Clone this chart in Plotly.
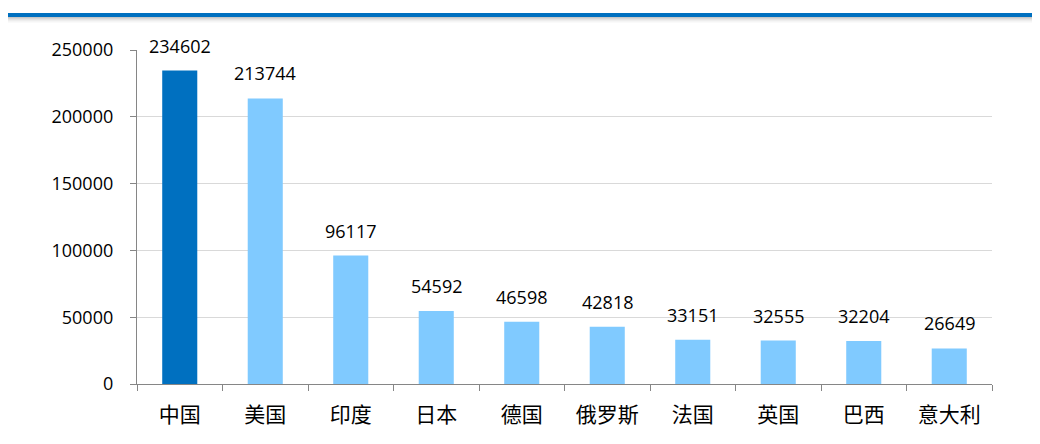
import plotly.graph_objects as go

countries = ["中国", "美国", "印度", "日本", "德国", "俄罗斯", "法国", "英国", "巴西", "意大利"]
values = [234602, 213744, 96117, 54592, 46598, 42818, 33151, 32555, 32204, 26649]
y_ticks = [0, 50000, 100000, 150000, 200000, 250000]

dark_blue = "#0070C0"
light_blue = "#80CAFF"
colors = [dark_blue] + [light_blue] * (len(countries) - 1)

num_font = "Open Sans, Noto Sans CJK SC"
cjk_font = "Noto Sans CJK SC"

# page has an 8px body margin; figure coords = page coords - 8
W, H = 1032, 436
L, R, T, B = 129, 48, 42, 60
PW, PH = W - L - R, H - T - B

def px_x(x):
    return (x - 8 - L) / PW

def px_y(y):
    return (H - B - (y - 8)) / PH

fig = go.Figure()
fig.add_trace(go.Bar(
    x=countries, y=values, marker=dict(color=colors, line=dict(width=0)),
    width=0.41, hoverinfo="x+y",
))

for c, v in zip(countries, values):
    fig.add_annotation(x=c, y=v, text=str(v), showarrow=False, yshift=25,
                       font=dict(family=num_font, size=18, color="#000000"))

# top decorative line with soft shadow
for i, op in enumerate([0.22, 0.16, 0.11, 0.07, 0.04, 0.02]):
    y0 = 17 + i
    fig.add_shape(type="rect", xref="paper", yref="paper",
                  x0=px_x(0), x1=px_x(1045),
                  y0=px_y(y0 + 1), y1=px_y(y0),
                  fillcolor=f"rgba(0,0,0,{op})", line=dict(width=0), layer="below")
fig.add_shape(type="rect", xref="paper", yref="paper",
              x0=px_x(0), x1=px_x(1045),
              y0=px_y(17), y1=px_y(13),
              fillcolor=dark_blue, line=dict(width=0))

fig.update_layout(
    width=W, height=H,
    margin=dict(l=L, r=R, t=T, b=B),
    paper_bgcolor="white", plot_bgcolor="white",
    showlegend=False,
    xaxis=dict(
        type="category", showline=True, linecolor="#868686", linewidth=1.3,
        ticks="outside", ticklen=6, tickcolor="#868686", tickson="boundaries",
        tickfont=dict(family=cjk_font, size=21, color="#000000"),
        ticklabelstandoff=12,
        showgrid=False,
    ),
    yaxis=dict(
        range=[0, 250000], tickvals=y_ticks, ticktext=[str(t) for t in y_ticks],
        showline=True, linecolor="#868686", linewidth=1.3,
        ticks="outside", ticklen=6, tickcolor="#868686",
        tickfont=dict(family=num_font, size=18, color="#000000"),
        ticklabelstandoff=13,
        showgrid=True, gridcolor="#D9D9D9", gridwidth=1, zeroline=False,
    ),
)

fig.write_html("out.html")
